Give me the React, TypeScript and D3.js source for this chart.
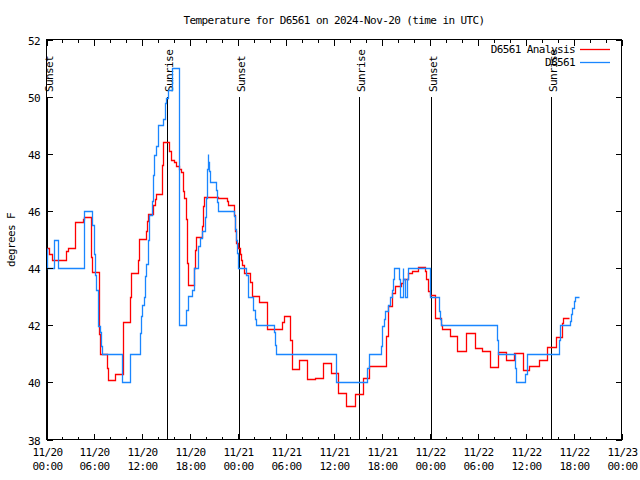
import React from "react";
import * as d3 from "d3";

// Hours since 2024-11-20 00:00 UTC and temperatures (deg F)
const redHours = [0, 0.33, 0.63, 2.46, 2.71, 3.55, 3.63, 4.55, 4.72, 5.55, 5.72, 6.55, 6.72, 7.55, 7.64, 8.56, 9.56, 9.64, 10.48, 10.64, 11.48, 11.56, 11.64, 12.48, 12.56, 12.73, 13.31, 13.57, 13.73, 14.48, 14.57, 15.4, 15.57, 16.0, 16.24, 16.57, 16.82, 17.07, 17.24, 17.41, 17.57, 17.66, 18.49, 18.57, 18.74, 19.49, 19.58, 19.74, 21.5, 22.58, 22.75, 23.5, 23.58, 23.67, 23.75, 24.0, 24.17, 24.33, 24.42, 24.75, 25.5, 25.67, 26.59, 26.67, 27.59, 27.67, 29.51, 29.68, 30.51, 30.68, 31.59, 32.6, 32.68, 33.6, 34.6, 35.6, 36.52, 37.52, 38.61, 39.61, 40.44, 42.45, 42.53, 42.7, 43.28, 43.62, 44.37, 44.7, 45.29, 45.71, 46.54, 47.37, 47.54, 47.79, 47.96, 48.63, 49.38, 49.55, 50.55, 51.46, 52.55, 53.64, 54.55, 55.55, 56.56, 57.48, 58.56, 59.65, 60.4, 61.65, 62.65, 63.74, 64.49, 64.66, 65.41];
const redTemps = [44.7, 44.5, 44.3, 44.6, 44.7, 45.3, 45.6, 45.7, 45.8, 44.4, 43.85, 41.7, 41.0, 40.5, 40.07, 40.3, 41.7, 42.1, 43.0, 43.83, 44.3, 44.68, 45.02, 45.3, 45.64, 45.88, 46.2, 46.42, 46.61, 47.6, 48.4, 48.1, 47.8, 47.7, 47.57, 47.45, 47.35, 46.69, 46.46, 45.7, 44.18, 43.4, 44.0, 44.65, 45.09, 45.47, 46.17, 46.49, 46.46, 46.35, 46.22, 45.87, 45.3, 45.0, 44.88, 44.71, 44.5, 44.3, 44.1, 43.83, 43.5, 43.04, 42.9, 42.82, 42.3, 41.88, 42.1, 42.32, 41.5, 40.48, 40.78, 40.4, 40.1, 40.16, 40.68, 40.33, 39.63, 39.17, 39.58, 40.16, 40.57, 41.15, 41.62, 42.67, 43.13, 43.37, 43.48, 43.6, 43.83, 43.9, 44.04, 43.9, 43.6, 43.2, 43.07, 42.26, 42.0, 41.85, 41.64, 41.09, 41.73, 41.21, 41.09, 40.55, 41.08, 40.8, 41.03, 40.42, 40.57, 40.78, 41.24, 41.59, 42.08, 42.26, 42.26];

const blueHours = [0, 0.1, 0.9, 1.4, 4.7, 5.7, 5.9, 6.1, 6.2, 6.4, 6.5, 6.7, 6.85, 6.95, 9.5, 10.4, 11.69, 11.85, 12.02, 12.19, 12.35, 12.52, 12.69, 12.86, 13.19, 13.36, 13.52, 13.69, 13.94, 14.61, 14.78, 14.94, 15.19, 15.69, 16.53, 17.49, 17.74, 18.24, 18.41, 18.49, 18.91, 18.99, 19.24, 19.41, 19.83, 19.99, 20.08, 20.16, 20.25, 20.41, 20.49, 21.25, 21.33, 21.5, 23.5, 23.58, 23.67, 23.83, 23.92, 25.0, 25.17, 25.25, 25.92, 26.09, 26.25, 28.51, 28.59, 28.76, 36.19, 40.11, 40.37, 41.86, 42.03, 42.2, 42.36, 42.78, 42.95, 43.2, 43.37, 43.53, 44.2, 44.3, 44.62, 44.7, 44.9, 45.12, 45.29, 47.96, 49.13, 49.29, 49.46, 56.39, 56.56, 58.64, 58.81, 59.9, 60.15, 64.16, 64.32, 65.57, 65.65, 65.82, 65.99, 66.16, 66.66];
const blueTemps = [44.7, 44.0, 45.0, 44.0, 46.0, 45.5, 44.5, 43.75, 43.25, 42.3, 41.97, 41.75, 41.27, 41.0, 40.0, 41.0, 41.73, 42.32, 42.72, 42.98, 43.72, 44.16, 45.0, 45.85, 46.34, 47.27, 47.97, 48.27, 49.02, 49.2, 49.78, 49.96, 50.25, 51.0, 42.0, 42.55, 43.02, 43.25, 43.77, 44.0, 44.3, 44.77, 45.05, 45.29, 45.8, 46.47, 47.45, 48.0, 47.7, 47.4, 47.02, 46.75, 46.3, 46.0, 45.82, 45.35, 45.0, 44.54, 44.0, 43.77, 43.25, 43.0, 42.55, 42.2, 42.0, 41.75, 41.3, 41.0, 40.0, 40.5, 41.0, 41.27, 41.97, 42.2, 42.5, 42.72, 43.0, 43.25, 43.6, 44.0, 43.6, 43.0, 44.0, 43.6, 43.0, 43.6, 44.0, 43.0, 42.5, 42.2, 42.0, 41.5, 41.0, 40.5, 40.0, 40.3, 41.0, 41.5, 42.0, 42.14, 42.4, 42.6, 42.84, 43.0, 43.0];

const eventHours = [0.05, 15.1, 24.08, 39.11, 48.12, 63.14];
const eventLabels = ["Sunset", "Sunrise", "Sunset", "Sunrise", "Sunset", "Sunrise"];

const seriesNames = ["D6561 Analysis", "D6561"];
const seriesColors = ["#ff0000", "#1a86ff"];

const yTicks = [38, 40, 42, 44, 46, 48, 50, 52];

const T0 = Date.UTC(2024, 10, 20);
const toDate = (h: number) => new Date(T0 + h * 3600e3);

const FONT = "'DejaVu Sans Mono', monospace";

export default function App() {
  const L = 46.5, R = 621.5, T = 39.5, B = 439.5;
  const x = d3.scaleUtc().domain([toDate(0), toDate(72)]).range([L, R]);
  const y = d3.scaleLinear().domain([38, 52]).range([B, T]);

  const majorX = x.ticks(d3.utcHour.every(6)!);
  const minorX = x.ticks(d3.utcHour.every(2)!).filter((d) => d.getUTCHours() % 6 !== 0);
  const fmtDay = d3.utcFormat("%m/%d");
  const fmtTime = d3.utcFormat("%H:%M");

  const line = d3
    .line<[number, number]>()
    .x((d) => Math.round(x(toDate(d[0]))) + 0.5)
    .y((d) => Math.round(y(d[1])) + 0.5)
    .curve(d3.curveStepAfter);

  const redPts = redHours.map((h, i) => [h, redTemps[i]] as [number, number]);
  const bluePts = blueHours.map((h, i) => [h, blueTemps[i]] as [number, number]);

  const textStyle: React.CSSProperties = { fontFamily: FONT, fontSize: 11, letterSpacing: "-0.6px" };

  return (
    <svg width={640} height={480} style={{ position: "absolute", left: 0, top: 0, background: "#fff" }}>
      <rect x={0} y={0} width={640} height={480} fill="#fff" />
      {/* title */}
      <text x={334} y={24} textAnchor="middle" style={textStyle}>
        Temperature for D6561 on 2024-Nov-20 (time in UTC)
      </text>
      {/* y-axis label */}
      <text transform={`translate(15,240) rotate(-90)`} textAnchor="middle" style={textStyle}>
        degrees F
      </text>

      {/* event lines */}
      {eventHours.map((h, i) => {
        const xe = Math.round(x(toDate(h))) + 0.5;
        return (
          <g key={"ev" + i}>
            <line x1={xe} x2={xe} y1={97} y2={B} stroke="#000" strokeWidth={1} shapeRendering="crispEdges" />
            <text transform={`translate(${xe + 5},92) rotate(-90)`} textAnchor="start" style={textStyle}>
              {eventLabels[i]}
            </text>
          </g>
        );
      })}

      {/* data */}
      <path d={line(redPts) || ""} fill="none" stroke={seriesColors[0]} strokeWidth={1.3} />
      <path d={line(bluePts) || ""} fill="none" stroke={seriesColors[1]} strokeWidth={1.3} />

      {/* border */}
      <rect x={L} y={T} width={R - L} height={B - T} fill="none" stroke="#000" strokeWidth={1} shapeRendering="crispEdges" />

      {/* y ticks */}
      {yTicks.map((v) => {
        const yy = Math.round(y(v)) + 0.5;
        return (
          <g key={"y" + v}>
            <line x1={L} x2={L + 6} y1={yy} y2={yy} stroke="#000" shapeRendering="crispEdges" />
            <line x1={R} x2={R - 6} y1={yy} y2={yy} stroke="#000" shapeRendering="crispEdges" />
            <text x={40} y={yy + 4} textAnchor="end" style={textStyle}>
              {v}
            </text>
          </g>
        );
      })}

      {/* x ticks */}
      {minorX.map((d, i) => {
        const xx = Math.round(x(d)) + 0.5;
        return (
          <g key={"mx" + i}>
            <line x1={xx} x2={xx} y1={B} y2={B - 3} stroke="#000" shapeRendering="crispEdges" />
            <line x1={xx} x2={xx} y1={T} y2={T + 3} stroke="#000" shapeRendering="crispEdges" />
          </g>
        );
      })}
      {majorX.map((d, i) => {
        const xx = Math.round(x(d)) + 0.5;
        return (
          <g key={"x" + i}>
            <line x1={xx} x2={xx} y1={B} y2={B - 6} stroke="#000" shapeRendering="crispEdges" />
            <line x1={xx} x2={xx} y1={T} y2={T + 6} stroke="#000" shapeRendering="crispEdges" />
            <text x={xx} y={456} textAnchor="middle" style={textStyle}>
              {fmtDay(d)}
            </text>
            <text x={xx} y={470} textAnchor="middle" style={textStyle}>
              {fmtTime(d)}
            </text>
          </g>
        );
      })}

      {/* legend */}
      {seriesNames.map((n, i) => (
        <g key={"lg" + i}>
          <text x={575} y={53 + i * 13} textAnchor="end" style={textStyle}>
            {n}
          </text>
          <line x1={580} x2={610} y1={49.5 + i * 13} y2={49.5 + i * 13} stroke={seriesColors[i]} strokeWidth={1.3} />
        </g>
      ))}
    </svg>
  );
}
